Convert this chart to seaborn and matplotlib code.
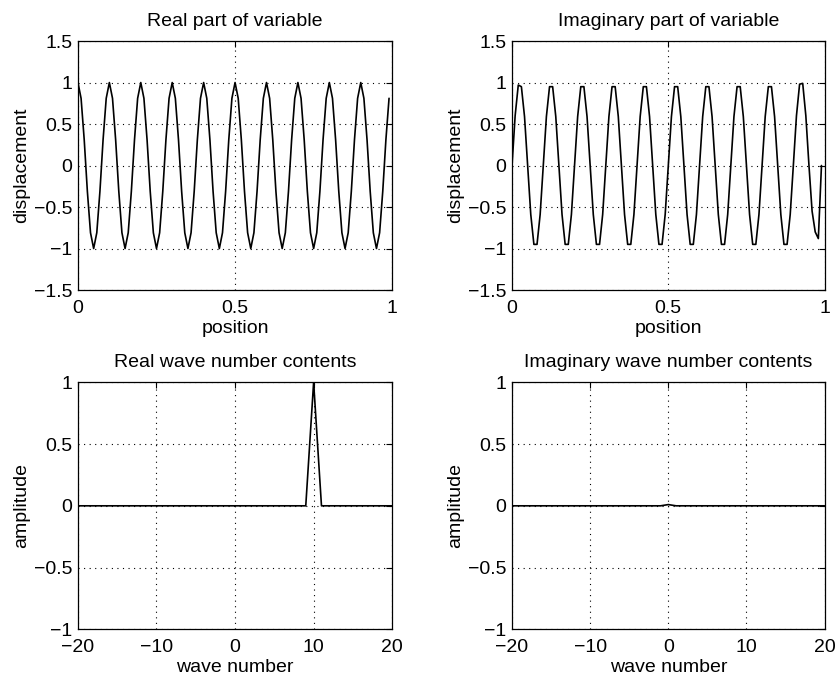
import numpy as np
import pandas as pd
import seaborn as sns
import matplotlib.pyplot as plt

# sample positions (0.00 ... 0.99) and wave numbers (-20 ... 20)
position = np.round(np.arange(0, 1, 0.01), 2)
wave_number = np.arange(-20, 21)

real_part = [
    1.00, 0.81, 0.31, -0.31, -0.81, -1.00, -0.81, -0.31, 0.31, 0.81,
    1.00, 0.81, 0.31, -0.31, -0.81, -1.00, -0.81, -0.31, 0.31, 0.81,
    1.00, 0.81, 0.31, -0.31, -0.81, -1.00, -0.81, -0.31, 0.31, 0.81,
    1.00, 0.81, 0.31, -0.31, -0.81, -1.00, -0.81, -0.31, 0.31, 0.81,
    1.00, 0.81, 0.31, -0.31, -0.81, -1.00, -0.81, -0.31, 0.31, 0.81,
    1.00, 0.81, 0.31, -0.31, -0.81, -1.00, -0.81, -0.31, 0.31, 0.81,
    1.00, 0.81, 0.31, -0.31, -0.81, -1.00, -0.81, -0.31, 0.31, 0.81,
    1.00, 0.81, 0.31, -0.31, -0.81, -1.00, -0.81, -0.31, 0.31, 0.81,
    1.00, 0.81, 0.31, -0.31, -0.81, -1.00, -0.81, -0.31, 0.31, 0.81,
    1.00, 0.81, 0.31, -0.31, -0.81, -1.00, -0.81, -0.31, 0.31, 0.81,
]

imag_part = [
    0.00, 0.60, 0.97, 0.95, 0.59, 0.00, -0.59, -0.95, -0.95, -0.59,
    0.00, 0.59, 0.95, 0.95, 0.59, 0.00, -0.59, -0.95, -0.95, -0.59,
    0.00, 0.59, 0.95, 0.95, 0.59, 0.00, -0.59, -0.95, -0.95, -0.59,
    0.00, 0.59, 0.95, 0.95, 0.59, 0.00, -0.59, -0.95, -0.95, -0.59,
    0.00, 0.59, 0.95, 0.95, 0.59, 0.00, -0.59, -0.95, -0.95, -0.59,
    0.00, 0.59, 0.95, 0.95, 0.59, 0.00, -0.59, -0.95, -0.95, -0.59,
    0.00, 0.59, 0.95, 0.95, 0.59, 0.00, -0.59, -0.95, -0.95, -0.59,
    0.00, 0.59, 0.95, 0.95, 0.59, 0.00, -0.59, -0.95, -0.95, -0.59,
    0.00, 0.59, 0.95, 0.95, 0.59, 0.00, -0.59, -0.95, -0.95, -0.59,
    0.00, 0.60, 0.98, 0.99, 0.60, 0.00, -0.55, -0.80, -0.88, 0.00,
]

real_contents = [
    0, 0, 0, 0, 0, 0, 0, 0, 0, 0,
    0, 0, 0, 0, 0, 0, 0, 0, 0, 0,
    0, 0, 0, 0, 0, 0, 0, 0, 0, 0,
    1,
    0, 0, 0, 0, 0, 0, 0, 0, 0, 0,
]

imag_contents = [
    0, 0, 0, 0, 0, 0, 0, 0, 0, 0,
    0, 0, 0, 0, 0, 0, 0, 0, 0, 0,
    0.01,
    0, 0, 0, 0, 0, 0, 0, 0, 0, 0,
    0, 0, 0, 0, 0, 0, 0, 0, 0, 0,
]

sns.set_style("white")
plt.rcParams["font.family"] = ["Liberation Sans", "DejaVu Sans"]
plt.rcParams["font.size"] = 14
plt.rcParams["text.color"] = "black"
plt.rcParams["axes.labelcolor"] = "black"

fig = plt.figure(figsize=(8.38, 6.84), dpi=100)
ax1 = fig.add_axes([0.093, 0.576, 0.375, 0.364])
ax2 = fig.add_axes([0.611, 0.576, 0.373, 0.364])
ax3 = fig.add_axes([0.093, 0.080, 0.375, 0.361])
ax4 = fig.add_axes([0.611, 0.080, 0.373, 0.361])

top = pd.DataFrame({"position": position, "real": real_part, "imag": imag_part})
bottom = pd.DataFrame({"k": wave_number, "real": real_contents, "imag": imag_contents})

sns.lineplot(data=top, x="position", y="real", ax=ax1, color="black", lw=1.2)
sns.lineplot(data=top, x="position", y="imag", ax=ax2, color="black", lw=1.2)
sns.lineplot(data=bottom, x="k", y="real", ax=ax3, color="black", lw=1.2)
sns.lineplot(data=bottom, x="k", y="imag", ax=ax4, color="black", lw=1.2)

for ax, title in [(ax1, "Real part of variable"), (ax2, "Imaginary part of variable")]:
    ax.set_xlim(0, 1)
    ax.set_ylim(-1.5, 1.5)
    ax.set_xticks([0, 0.5, 1])
    ax.set_xticklabels(["0", "0.5", "1"])
    ax.set_yticks([-1.5, -1, -0.5, 0, 0.5, 1, 1.5])
    ax.set_yticklabels(["\u22121.5", "\u22121", "\u22120.5", "0", "0.5", "1", "1.5"])
    ax.set_xlabel("position", fontsize=14, labelpad=2)
    ax.set_ylabel("displacement", fontsize=14, labelpad=3)
    ax.set_title(title, fontsize=14, pad=11, color="black")

for ax, title in [(ax3, "Real wave number contents"), (ax4, "Imaginary wave number contents")]:
    ax.set_xlim(-20, 20)
    ax.set_ylim(-1, 1)
    ax.set_xticks([-20, -10, 0, 10, 20])
    ax.set_xticklabels(["\u221220", "\u221210", "0", "10", "20"])
    ax.set_yticks([-1, -0.5, 0, 0.5, 1])
    ax.set_yticklabels(["\u22121", "\u22120.5", "0", "0.5", "1"])
    ax.set_xlabel("wave number", fontsize=14, labelpad=2)
    ax.set_ylabel("amplitude", fontsize=14, labelpad=3)
    ax.set_title(title, fontsize=14, pad=11, color="black")

for ax in (ax1, ax2, ax3, ax4):
    ax.grid(True, linestyle=(0, (1, 4)), color="black", linewidth=0.8)
    ax.tick_params(direction="in", length=4, width=0.8, top=True, right=True,
                   labelsize=14, colors="black")
    ax.tick_params(axis="x", pad=7)
    ax.tick_params(axis="y", pad=4)
    for s in ax.spines.values():
        s.set_color("black")
        s.set_linewidth(0.9)

fig.savefig("out.png", dpi=100)
